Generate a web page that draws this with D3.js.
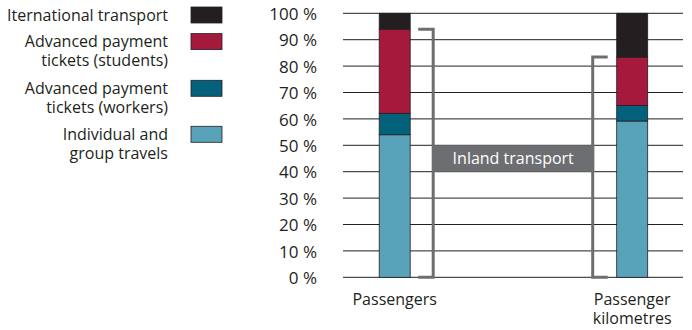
<!DOCTYPE html>
<html>
<head>
<meta charset="utf-8">
<script src="https://cdn.jsdelivr.net/npm/d3@7/dist/d3.min.js"></script>
<style>
  html, body { margin: 0; padding: 0; background: #fff; }
  svg { display: block; font-family: "Open Sans", sans-serif; }
</style>
</head>
<body>
<svg id="chart" width="692" height="330"></svg>
<script>
// Share of rail passengers and passenger kilometres by ticket type (%)
const categories = ["Passengers", "Passenger kilometres"];
const categoryLines = [["Passengers"], ["Passenger", "kilometres"]];
const individualGroup = [54.0, 59.2];
const workersTickets = [8.1, 5.9];
const studentsTickets = [31.9, 18.3];
const international = [6.0, 16.6];
const seriesNames = [
  ["Individual and", "group travels"],
  ["Advanced payment", "tickets (workers)"],
  ["Advanced payment", "tickets (students)"],
  ["Iternational transport"]
];
const yTicks = [0, 10, 20, 30, 40, 50, 60, 70, 80, 90, 100];
const bracketLabel = "Inland transport";

const colors = ["#58a3ba", "#04617b", "#a5193c", "#231f20"];
const ink = "#231f20";
const grey = "#6d6e71";

const svg = d3.select("#chart");

const rows = categories.map((c, i) => ({
  category: c,
  individual: individualGroup[i],
  workers: workersTickets[i],
  students: studentsTickets[i],
  international: international[i]
}));
const keys = ["individual", "workers", "students", "international"];
const stacked = d3.stack().keys(keys)(rows);

const y = d3.scaleLinear().domain([0, 100]).range([277.3, 13.3]);
const x = d3.scalePoint().domain(categories).range([394.7, 632.2]);
const barW = 31;
const gridX0 = 343, gridX1 = 683;
const lineGap = 18.5;

// Gridlines
svg.append("g").selectAll("line").data(yTicks).join("line")
  .attr("x1", gridX0).attr("x2", gridX1)
  .attr("y1", d => y(d)).attr("y2", d => y(d))
  .attr("stroke", ink).attr("stroke-width", 1);

// Y axis labels
const yAxis = d3.axisLeft(y).tickValues(yTicks).tickSize(0).tickPadding(0)
  .tickFormat(d => d + " %");
const gy = svg.append("g").attr("transform", "translate(317,0)").call(yAxis);
gy.select(".domain").remove();
gy.selectAll("text")
  .attr("font-family", "Open Sans, sans-serif")
  .attr("font-size", 17).attr("fill", ink).attr("dy", "0.36em");

// Stacked bars
svg.append("g").selectAll("g").data(stacked).join("g")
  .attr("fill", (d, i) => colors[i])
  .selectAll("rect").data(d => d).join("rect")
  .attr("x", d => x(d.data.category) - barW / 2)
  .attr("width", barW)
  .attr("y", d => y(d[1]))
  .attr("height", d => y(d[0]) - y(d[1]))
  .attr("stroke", ink).attr("stroke-width", 0.8);

// Inland transport brackets (everything but international)
const inland = rows.map(r => r.individual + r.workers + r.students);
const brackets = [
  { v: inland[0], xv: x(categories[0]) + 38.5, dir: -1 },
  { v: inland[1], xv: x(categories[1]) - 39.5, dir: 1 }
];
svg.append("g").selectAll("path").data(brackets).join("path")
  .attr("d", b => `M${b.xv + b.dir * 15},${y(b.v)} H${b.xv} V${y(0)} H${b.xv + b.dir * 15}`)
  .attr("fill", "none").attr("stroke", grey).attr("stroke-width", 3);

// Bracket label
const boxX0 = brackets[0].xv - 1, boxX1 = brackets[1].xv + 1.5;
svg.append("rect")
  .attr("x", boxX0).attr("width", boxX1 - boxX0)
  .attr("y", y(50)).attr("height", y(40) - y(50))
  .attr("fill", grey);
svg.append("text")
  .attr("x", (boxX0 + boxX1) / 2).attr("y", (y(50) + y(40)) / 2)
  .attr("dy", "0.36em").attr("text-anchor", "middle")
  .attr("font-size", 16).attr("fill", "#fff")
  .text(bracketLabel);

// Category labels, one text per line
const catLabels = categories.flatMap((c, i) =>
  categoryLines[i].map((t, j) => ({ c, t, j })));
svg.append("g").selectAll("text").data(catLabels).join("text")
  .attr("x", d => x(d.c)).attr("y", d => 305 + d.j * lineGap)
  .attr("text-anchor", "middle").attr("font-size", 16).attr("fill", ink)
  .text(d => d.t);

// Legend (top entry first)
const legendOrder = [3, 2, 1, 0];
const legendBaselines = [20.7, 47.3, 94, 140];
const lg = svg.append("g");
lg.selectAll("rect").data(legendOrder).join("rect")
  .attr("x", 191).attr("width", 31)
  .attr("y", (d, i) => legendBaselines[i] - 13.7).attr("height", 16)
  .attr("fill", d => colors[d]).attr("stroke", ink).attr("stroke-width", 0.8);
const legendLines = legendOrder.flatMap((s, i) =>
  seriesNames[s].map((t, j) => ({ t, base: legendBaselines[i] + j * lineGap })));
lg.selectAll("text").data(legendLines).join("text")
  .attr("x", 168).attr("y", d => d.base)
  .attr("text-anchor", "end").attr("font-size", 16).attr("fill", ink)
  .text(d => d.t);
</script>
</body>
</html>
